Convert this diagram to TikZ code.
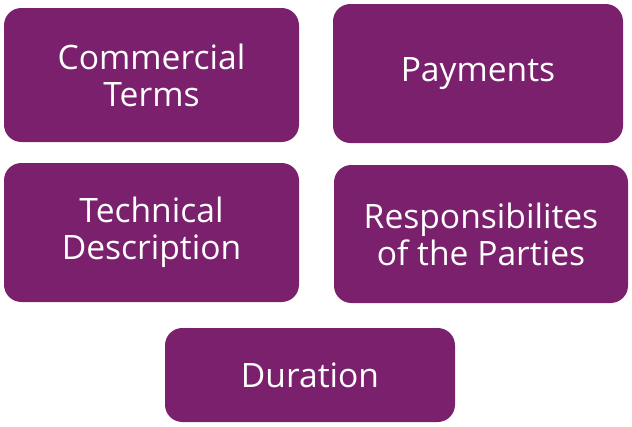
\documentclass[tikz,border=0pt]{standalone}
\usepackage{fontspec}
\setmainfont{Open Sans}
\definecolor{boxpurple}{RGB}{122,32,108}
\begin{document}
\begin{tikzpicture}[x=0.75pt,y=-0.75pt,
  topic/.style={fill=boxpurple, draw=none, rounded corners=13pt, text=white,
    align=center, inner sep=0pt,
    font=\fontsize{25.2}{27.8}\selectfont}]
\useasboundingbox (0,0) rectangle (632,426);
\node[topic, minimum width=221.25pt, minimum height=100.5pt] (commercial) at (151.5,75) {Commercial\\Terms};
\node[topic, minimum width=217.5pt, minimum height=104.25pt] (payments) at (478,73.5) {Payments};
\node[topic, minimum width=221.25pt, minimum height=104.25pt] (technical) at (151.5,232.5) {Technical\\Description};
\node[topic, minimum width=220.5pt, minimum height=103.5pt] (responsibilities) at (481,234) {Responsibilites\\of the Parties};
\node[topic, minimum width=217.5pt, minimum height=70.5pt] (duration) at (310,375) {Duration};
\end{tikzpicture}
\end{document}
